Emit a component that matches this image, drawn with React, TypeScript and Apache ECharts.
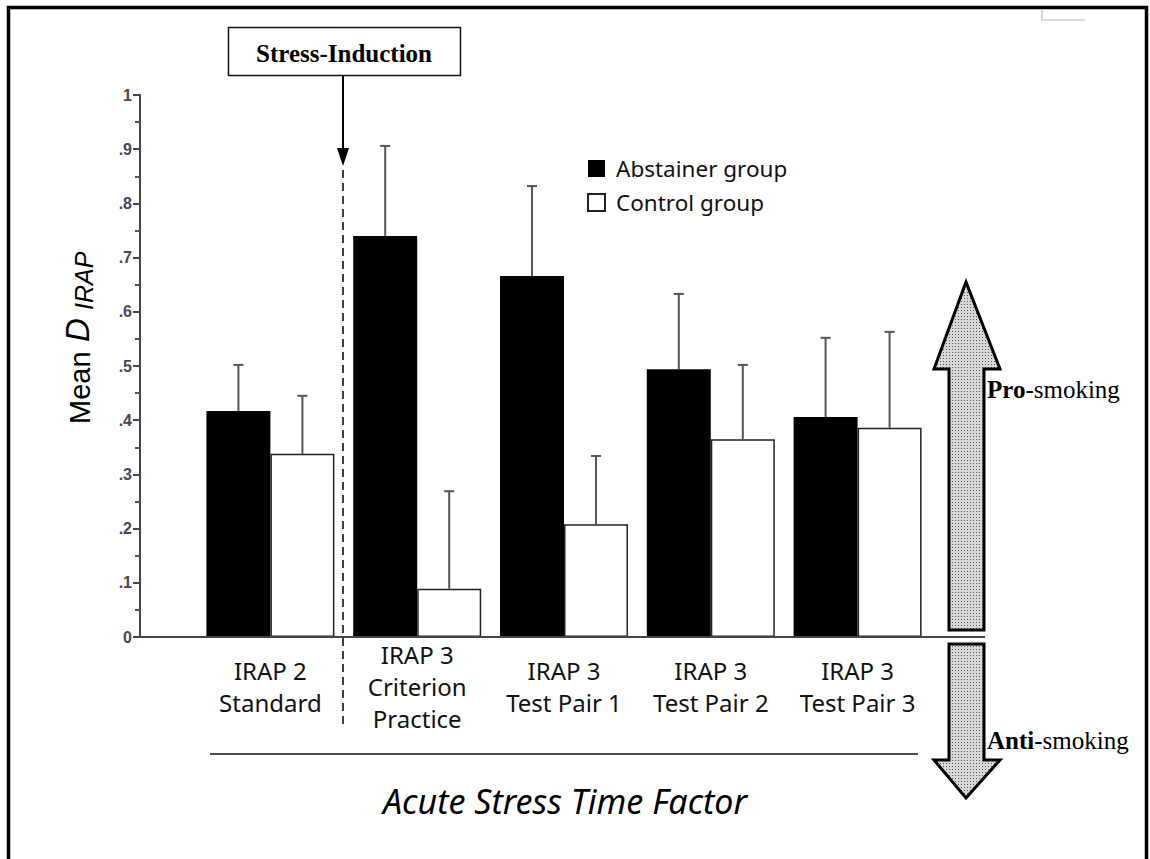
import React, { useEffect, useRef } from "react";
import * as echarts from "echarts";

const categories = [
  "IRAP 2\nStandard",
  "IRAP 3\nCriterion\nPractice",
  "IRAP 3\nTest Pair 1",
  "IRAP 3\nTest Pair 2",
  "IRAP 3\nTest Pair 3",
];
const abstainerMean = [0.417, 0.74, 0.666, 0.494, 0.406];
const abstainerUpper = [0.502, 0.906, 0.832, 0.633, 0.552];
const controlMean = [0.338, 0.089, 0.208, 0.365, 0.386];
const controlUpper = [0.445, 0.269, 0.334, 0.502, 0.563];
const yTicks = [0, 0.1, 0.2, 0.3, 0.4, 0.5, 0.6, 0.7, 0.8, 0.9, 1];

const LABEL_FONT = "'Noto Sans', 'Open Sans', sans-serif";
const SERIF = "'Liberation Serif', 'Times New Roman', serif";
const ARIAL = "Arial, 'Liberation Sans', sans-serif";

function errRender(offset: number) {
  return (params: any, api: any) => {
    const base = api.coord([api.value(0), api.value(1)]);
    const top = api.coord([api.value(0), api.value(2)]);
    const cx = base[0] + offset;
    return {
      type: "group",
      children: [
        {
          type: "line",
          shape: { x1: cx, y1: base[1], x2: cx, y2: top[1] },
          style: { stroke: "#555", lineWidth: 2 },
        },
        {
          type: "line",
          shape: { x1: cx - 5, y1: top[1], x2: cx + 5, y2: top[1] },
          style: { stroke: "#555", lineWidth: 2 },
        },
      ],
    };
  };
}

function dotPattern(): any {
  const c = document.createElement("canvas");
  c.width = 3;
  c.height = 3;
  const ctx = c.getContext("2d");
  if (!ctx) return "#c6c6c6";
  ctx.fillStyle = "#d8d8d8";
  ctx.fillRect(0, 0, 3, 3);
  ctx.fillStyle = "#555";
  ctx.fillRect(1, 1, 1, 1);
  return { image: c, repeat: "repeat" };
}

export default function App() {
  const ref = useRef<HTMLDivElement>(null);
  useEffect(() => {
    if (!ref.current) return;
    const chart = echarts.init(ref.current, undefined, { renderer: "svg" });
    const option: any = {
      animation: false,
      backgroundColor: "#fff",
      grid: { left: 197, right: 219, top: 95, bottom: 222 },
      legend: {
        orient: "vertical",
        left: 587,
        top: 157,
        padding: 0,
        itemWidth: 17,
        itemHeight: 17,
        itemGap: 11,
        icon: "rect",
        data: ["Abstainer group", "Control group"],
        textStyle: { fontFamily: LABEL_FONT, fontSize: 22.5, color: "#111", lineHeight: 20, padding: [0, 0, 0, 6] },
      },
      xAxis: {
        type: "category",
        data: categories,
        axisLine: { show: false },
        axisTick: { show: false },
        axisLabel: {
          interval: 0,
          margin: 49,
          verticalAlign: "middle",
          fontFamily: LABEL_FONT,
          fontSize: 24,
          lineHeight: 32,
          color: "#111",
        },
      },
      yAxis: {
        type: "value",
        min: 0,
        max: 1,
        interval: 0.1,
        offset: 57,
        splitLine: { show: false },
        axisLine: { show: true, lineStyle: { color: "#444", width: 2 } },
        axisTick: { show: true, length: 7, lineStyle: { color: "#444", width: 2 } },
        minorTick: { show: true, splitNumber: 2, length: 5, lineStyle: { color: "#555", width: 2 } },
        axisLabel: {
          margin: 8,
          fontFamily: ARIAL,
          fontSize: 16,
          fontWeight: "bold",
          color: "#4a4458",
          formatter: (v: number) => {
            const t = yTicks.find((y) => Math.abs(y - v) < 1e-6);
            if (t === undefined) return "";
            if (t === 0) return "0";
            if (t === 1) return "1";
            return "." + Math.round(t * 10);
          },
        },
      },
      series: [
        {
          name: "Abstainer group",
          type: "bar",
          data: abstainerMean,
          barWidth: 64,
          barGap: "0%",
          itemStyle: { color: "#000", borderColor: "#000", borderWidth: 0 },
        },
        {
          name: "Control group",
          type: "bar",
          data: controlMean,
          barWidth: 64,
          barGap: "0%",
          itemStyle: { color: "#fff", borderColor: "#222", borderWidth: 1.5 },
        },
        {
          name: "abstainerErr",
          type: "custom",
          z: 5,
          renderItem: errRender(-32),
          data: abstainerMean.map((m, i) => [i, m, abstainerUpper[i]]),
        },
        {
          name: "controlErr",
          type: "custom",
          z: 5,
          renderItem: errRender(32),
          data: controlMean.map((m, i) => [i, m, controlUpper[i]]),
        },
      ],
      graphic: [
        { type: "rect", shape: { x: 8.5, y: 7.5, width: 1138, height: 900 }, style: { fill: "none", stroke: "#000", lineWidth: 3.5 }, z: 100 },
        { type: "polyline", shape: { points: [[1042, 10], [1042, 20], [1085, 20]] }, style: { stroke: "#bbb", lineWidth: 1.2, fill: "none" } },
        { type: "line", shape: { x1: 140, y1: 637, x2: 985, y2: 637 }, style: { stroke: "#444", lineWidth: 2 }, z: 10 },
        { type: "rect", shape: { x: 228.5, y: 27.5, width: 232, height: 48 }, style: { fill: "#fff", stroke: "#111", lineWidth: 1.5 } },
        {
          type: "text",
          x: 344,
          y: 53,
          style: { text: "Stress-Induction", font: "bold 25px " + SERIF, fill: "#000", align: "center", verticalAlign: "middle" },
        },
        { type: "line", shape: { x1: 343, y1: 76, x2: 343, y2: 152 }, style: { stroke: "#000", lineWidth: 2 } },
        { type: "polygon", shape: { points: [[337, 148], [349, 148], [343, 166]] }, style: { fill: "#000" } },
        { type: "line", shape: { x1: 343, y1: 170, x2: 343, y2: 726 }, style: { stroke: "#000", lineWidth: 1.5, lineDash: [8, 5] } },
        { type: "line", shape: { x1: 210, y1: 754, x2: 918, y2: 754 }, style: { stroke: "#111", lineWidth: 1.5 } },
        {
          type: "text",
          x: 565,
          y: 801,
          style: { text: "Acute Stress Time Factor", font: "italic 34px " + LABEL_FONT, fill: "#000", align: "center", verticalAlign: "middle" },
        },
        {
          type: "group",
          x: 88,
          y: 424,
          rotation: Math.PI / 2,
          children: [
            { type: "text", x: 0, y: 6, style: { text: "Mean", font: "29px " + ARIAL, fill: "#000", align: "left", verticalAlign: "bottom" } },
            { type: "text", x: 82, y: 6, style: { text: "D", font: "italic 33px " + ARIAL, fill: "#000", align: "left", verticalAlign: "bottom" } },
            { type: "text", x: 114, y: 8, style: { text: "IRAP", font: "italic 25px " + ARIAL, fill: "#000", align: "left", verticalAlign: "bottom" } },
          ],
        },
        {
          type: "polygon",
          shape: { points: [[966, 282], [1000, 369], [984, 369], [984, 630], [949, 630], [949, 369], [934, 369]] },
          style: { fill: dotPattern(), stroke: "#000", lineWidth: 3 },
        },
        {
          type: "polygon",
          shape: { points: [[949, 644], [984, 644], [984, 760], [1000, 760], [966, 798], [934, 760], [949, 760]] },
          style: { fill: dotPattern(), stroke: "#000", lineWidth: 3 },
        },
        {
          type: "text",
          x: 987,
          y: 389,
          style: {
            text: "{b|Pro}{n|-smoking}",
            verticalAlign: "middle",
            rich: {
              b: { font: "bold 25px " + SERIF, fill: "#000" },
              n: { font: "25px " + SERIF, fill: "#000" },
            },
          },
        },
        {
          type: "text",
          x: 987,
          y: 740,
          style: {
            text: "{b|Anti}{n|-smoking}",
            verticalAlign: "middle",
            rich: {
              b: { font: "bold 25px " + SERIF, fill: "#000" },
              n: { font: "25px " + SERIF, fill: "#000" },
            },
          },
        },
      ],
    };
    chart.setOption(option);
    return () => chart.dispose();
  }, []);
  return (
    <div
      ref={ref}
      style={{ position: "fixed", left: 0, top: 0, width: 1150, height: 859, background: "#fff" }}
    />
  );
}
